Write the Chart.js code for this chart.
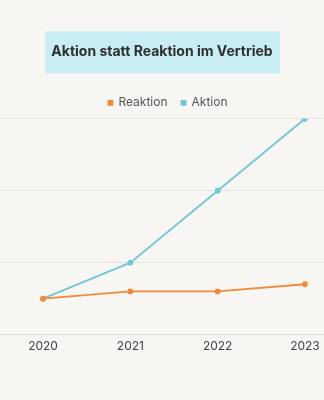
<!DOCTYPE html>
<html>
<head>
<meta charset="utf-8">
<script src="https://cdn.jsdelivr.net/npm/chart.js@4"></script>
<style>
  html, body { margin: 0; padding: 0; background: #f7f6f3; }
  #wrap { width: 324px; height: 400px; }
</style>
</head>
<body>
<div id="wrap"><canvas id="chart" width="324" height="400"></canvas></div>
<script>
// --- data ---------------------------------------------------
const years    = [2020, 2021, 2022, 2023];
const reaktion = [5, 6, 6, 7];
const aktion   = [5, 10, 20, 30];
const titleText = 'Aktion statt Reaktion im Vertrieb';

const TITLE_PAD_TOP = 43;
const TITLE_SIZE = 14;

const toPoints = vals => vals.map((v, i) => ({ x: years[i], y: v }));

// light cyan "brush" box behind the title, nudged legend
const titleBox = {
  id: 'titleBox',
  afterLayout(chart) {
    const lg = chart.legend;
    if (lg) { lg.left += 6; lg.right += 6; }
  },
  beforeDraw(chart) {
    const t = chart.titleBlock;
    if (!t) return;
    const ctx = chart.ctx;
    const cx = (t.left + t.right) / 2;
    const cy = t.top + TITLE_PAD_TOP + TITLE_SIZE * 0.6;
    ctx.save();
    ctx.fillStyle = '#c8eef4';
    ctx.fillRect(cx - 117, cy - 20, 235, 42);
    ctx.restore();
  }
};

new Chart(document.getElementById('chart'), {
  type: 'line',
  data: {
    datasets: [
      {
        label: 'Reaktion',
        data: toPoints(reaktion),
        borderColor: '#f28a3c',
        backgroundColor: '#f28a3c',
        borderWidth: 1.8,
        pointRadius: 2,
        tension: 0
      },
      {
        label: 'Aktion',
        data: toPoints(aktion),
        borderColor: '#72c6d4',
        backgroundColor: '#72c6d4',
        borderWidth: 1.8,
        pointRadius: 2,
        tension: 0
      }
    ]
  },
  options: {
    responsive: false,
    animation: false,
    layout: { autoPadding: false, padding: { top: 0, bottom: 49, left: 0, right: 0 } },
    plugins: {
      title: {
        display: true,
        text: titleText,
        color: '#2f2f2f',
        font: { family: 'Inter', size: TITLE_SIZE, weight: 'bold' },
        padding: { top: TITLE_PAD_TOP, bottom: 23 }
      },
      legend: {
        labels: {
          usePointStyle: true,
          pointStyle: 'rect',
          boxWidth: 4,
          boxHeight: 4,
          color: '#555',
          font: { family: 'Inter', size: 12 },
          padding: 14
        }
      },
      tooltip: { enabled: false }
    },
    scales: {
      x: {
        type: 'linear',
        min: 2019.507,
        max: 2023.218,
        afterBuildTicks(axis) {
          axis.ticks = years.map(v => ({ value: v }));
        },
        ticks: {
          color: '#444',
          font: { family: 'Inter', size: 12 },
          padding: -3,
          callback: v => String(v)
        },
        grid: { display: false },
        border: { color: '#dcdcdc' }
      },
      y: {
        min: 0,
        max: 30,
        ticks: { display: false, stepSize: 10, padding: 0 },
        grid: { color: '#e2e2e0', drawTicks: false },
        border: { display: false }
      }
    }
  },
  plugins: [titleBox]
});
</script>
</body>
</html>
